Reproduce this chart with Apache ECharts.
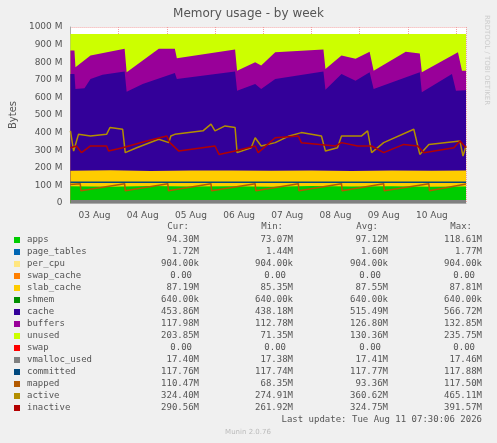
<!DOCTYPE html>
<html><head><meta charset="utf-8">
<script src="https://cdn.jsdelivr.net/npm/echarts@6/dist/echarts.min.js"></script>
<style>html,body{margin:0;background:#f0f0f0}#c{width:497px;height:443px}</style>
</head><body><div id="c"></div>
<script>
// hours since 03 Aug 00:00, values in M
var unusedTop = [[0,960],[197,960]];
var buffersTop = [[0,867],[2,867],[2.5,771],[10,838],[27,876],[28,743],[44,876],[52,876],[53,823],[82,872],[83,752],[92,800],[95,781],[102,857],[126,872],[127,762],[135,838],[142,819],[149,860],[151,752],[167,860],[174,850],[175,743],[193,857],[195,752],[197,752]];
var cacheTop = [[0,733],[2,733],[2.5,648],[7,652],[10,705],[16,728],[27,747],[28,632],[36,676],[52,739],[53,705],[82,747],[83,638],[92,676],[95,648],[102,705],[126,747],[127,644],[135,733],[142,695],[149,743],[151,648],[174,743],[175,629],[190,733],[192,638],[197,640]];
var slabTop = [[0,183],[20,186],[40,182],[60,185],[80,184],[100,183],[120,185],[140,182],[160,184],[180,183],[197,184]];
var appsTop = [[0,95],[20,93],[40,96],[60,94],[80,95],[100,93],[120,96],[140,94],[160,95],[180,93],[197,94]];
var vmalloc = [[0,17.4],[197,17.4]];
var committed = [[0,117.8],[197,117.8]];
var mapped = [[0,105],[4.9,110],[5.2,70],[27,110],[27.3,70],[48.5,110],[48.8,70],[70,110],[70.3,70],[92,110],[92.3,70],[113.5,110],[113.8,70],[135,110],[135.3,70],[156,110],[156.3,70],[178.5,110],[178.8,70],[197,108]];
var active = [[0,410],[1.6,295],[4,390],[10,381],[18,390],[19.7,429],[26,419],[27.3,286],[33,314],[44,362],[49,343],[50,381],[52,390],[66,410],[70,448],[72,410],[77,438],[82,429],[83,286],[90,314],[92,371],[95,324],[102,343],[109,381],[115,400],[125,381],[127,295],[133,314],[135,381],[145,381],[148,410],[150,286],[156,343],[171,419],[174,276],[178.5,333],[194,352],[195.5,267],[197,324]];
var inactive = [[0,314],[3,324],[5.5,286],[10,324],[18,324],[19,295],[26,314],[38,352],[48,381],[49.5,343],[54,295],[72,324],[74,276],[82,295],[92,324],[93.5,286],[102,371],[113.5,381],[115,343],[132,324],[135,343],[143,324],[150,324],[156,286],[166,333],[173,324],[176,286],[191,314],[194,352],[197,314]];
var days = ['03 Aug','04 Aug','05 Aug','06 Aug','07 Aug','08 Aug','09 Aug','10 Aug'];

var legendNames = ['apps','page_tables','per_cpu','swap_cache','slab_cache','shmem','cache','buffers','unused','swap','vmalloc_used','committed','mapped','active','inactive'];
var legendColors = ['#00cc00','#0066b3','#ffe680','#ff8000','#ffcc00','#008f00','#330099','#990099','#ccff00','#ff0000','#808080','#00487d','#b35a00','#b38f00','#b30000'];
var curVals = ['94.30M','1.72M','904.00k','0.00','87.19M','640.00k','453.86M','117.98M','203.85M','0.00','17.40M','117.76M','110.47M','324.40M','290.56M'];
var minVals = ['73.07M','1.44M','904.00k','0.00','85.35M','640.00k','438.18M','112.78M','71.35M','0.00','17.38M','117.74M','68.35M','274.91M','261.92M'];
var avgVals = ['97.12M','1.60M','904.00k','0.00','87.55M','640.00k','515.49M','126.80M','130.36M','0.00','17.41M','117.77M','93.36M','360.62M','324.75M'];
var maxVals = ['118.61M','1.77M','904.00k','0.00','87.81M','640.00k','566.72M','132.85M','235.75M','0.00','17.46M','117.88M','117.50M','465.11M','391.57M'];

var mono = 'DejaVu Sans Mono';
var tc = '#555';
function area(name, data, color) {
  return {name: name, type: 'line', data: data, symbol: 'none', lineStyle: {width: 0},
    areaStyle: {color: color, opacity: 1}, xAxisIndex: 0};
}
function line(name, data, color) {
  return {name: name, type: 'line', data: data, symbol: 'none', lineStyle: {width: 1.5, color: color}, xAxisIndex: 0};
}
var g = [];
var cols = [199, 293, 388, 482];
['Cur:','Min:','Avg:','Max:'].forEach(function (h, i) {
  g.push({type: 'text', x: cols[i] - 10, y: 227, style: {text: h, font: '9px ' + mono, fill: tc, textAlign: 'right', textVerticalAlign: 'middle'}});
});
legendNames.forEach(function (n, i) {
  var y = 240 + i * 12;
  g.push({type: 'rect', shape: {x: 14, y: y - 3, width: 6, height: 6}, style: {fill: legendColors[i]}});
  g.push({type: 'text', x: 27, y: y, style: {text: n, font: '9px ' + mono, fill: tc, textVerticalAlign: 'middle'}});
  [curVals, minVals, avgVals, maxVals].forEach(function (arr, j) {
    var v = arr[i], off = (v === '0.00') ? 7 : 0;
    g.push({type: 'text', x: cols[j] - off, y: y, style: {text: v, font: '9px ' + mono, fill: tc, textAlign: 'right', textVerticalAlign: 'middle'}});
  });
});
g.push({type: 'text', x: 482, y: 420, style: {text: 'Last update: Tue Aug 11 07:30:06 2026', font: '9px ' + mono, fill: tc, textAlign: 'right', textVerticalAlign: 'middle'}});
g.push({type: 'text', x: 248, y: 432, style: {text: 'Munin 2.0.76', font: '7px DejaVu Sans', fill: '#bbb', textAlign: 'center', textVerticalAlign: 'middle'}});
g.push({type: 'text', x: 487, y: 60, rotation: -Math.PI / 2, style: {text: 'RRDTOOL / TOBI OETIKER', font: '7px DejaVu Sans', fill: '#ccc', textAlign: 'center', textVerticalAlign: 'middle'}});

var chart = echarts.init(document.getElementById('c'));
chart.setOption({
  animation: false,
  backgroundColor: '#f0f0f0',
  title: {text: 'Memory usage - by week', left: 'center', top: 3, textStyle: {fontSize: 12, fontWeight: 'normal', color: '#555', fontFamily: 'DejaVu Sans'}},
  grid: {left: 67, right: 31, top: 27, bottom: 240, backgroundColor: '#fff', show: true, borderWidth: 0},
  xAxis: [
    {type: 'value', min: 0, max: 197, interval: 24, axisLabel: {show: false}, axisTick: {show: false},
      axisLine: {lineStyle: {color: '#aaa'}}, splitLine: {lineStyle: {color: '#f0a0a0', type: 'dotted'}}},
    {type: 'value', min: 0, max: 197, interval: 12, position: 'bottom', axisLine: {show: false},
      axisTick: {show: false}, splitLine: {show: false},
      axisLabel: {color: tc, fontSize: 9, fontFamily: 'DejaVu Sans', showMaxLabel: false,
        formatter: function (v) { return (v % 24 === 12) ? days[(v - 12) / 24] : ''; }}}
  ],
  yAxis: {type: 'value', min: 0, max: 1000, interval: 100, name: 'Bytes', nameLocation: 'middle', nameGap: 52,
    nameTextStyle: {color: tc, fontSize: 10, fontFamily: 'DejaVu Sans'},
    axisLine: {show: true, lineStyle: {color: '#aaa'}}, axisTick: {show: false},
    axisLabel: {color: tc, fontSize: 9, fontFamily: 'DejaVu Sans', formatter: function (v) { return v === 0 ? '0' : v + ' M'; }},
    splitLine: {lineStyle: {color: '#f0a0a0', type: 'dotted'}}},
  series: [
    area('unused', unusedTop, '#ccff00'),
    area('buffers', buffersTop, '#990099'),
    area('cache', cacheTop, '#330099'),
    area('slab_cache', slabTop, '#ffcc00'),
    area('apps', appsTop, '#00cc00'),
    area('vmalloc_used', vmalloc, '#808080'),
    line('committed', committed, '#00487d'),
    line('mapped', mapped, '#b35a00'),
    line('active', active, '#b38f00'),
    line('inactive', inactive, '#b30000')
  ],
  graphic: g
});
</script></body></html>
